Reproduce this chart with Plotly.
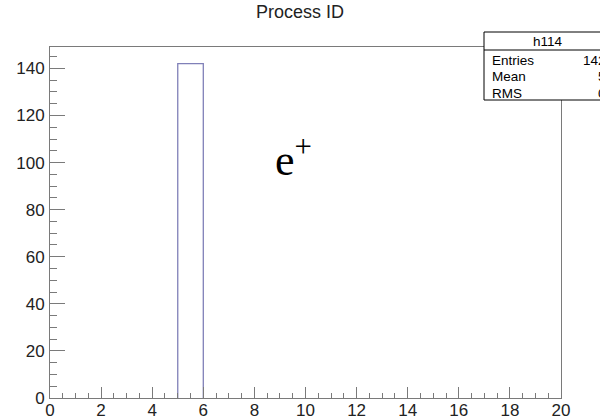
import plotly.graph_objects as go

# Data
bin_edges = list(range(0, 21))
counts = [0, 0, 0, 0, 0, 142, 0, 0, 0, 0, 0, 0, 0, 0, 0, 0, 0, 0, 0, 0]
title_text = "Process ID"
hist_name = "h114"
stat_labels = ["Entries", "Mean", "RMS"]
stat_values = ["142", "5", "0"]
x_ticks = list(range(0, 21, 2))
y_ticks = list(range(0, 141, 20))

# histogram outline built from bin edges and counts (non-empty bins)
hx, hy = [], []
for i, n in enumerate(counts):
    if n > 0:
        hx += [bin_edges[i], bin_edges[i], bin_edges[i + 1], bin_edges[i + 1], None]
        hy += [0, n, n, 0, None]

fig = go.Figure()
fig.add_trace(go.Scatter(
    x=hx, y=hy, mode="lines",
    line=dict(color="#8080b8", width=1.3),
    showlegend=False, hoverinfo="skip",
))

axis_color = "#7a7a7a"
font_family = "Liberation Sans, Arial, sans-serif"

fig.update_layout(
    width=600, height=420,
    margin=dict(l=50, r=39, t=47, b=22, autoexpand=False),
    paper_bgcolor="white", plot_bgcolor="white",
    font=dict(family=font_family, size=17, color="#222222"),
    title=dict(text=title_text, x=0.5, xanchor="center", y=0.972, yanchor="middle",
               font=dict(size=18, color="#222222")),
)
fig.update_xaxes(
    range=[0, 20], tickvals=x_ticks, ticks="inside", ticklen=11, tickwidth=1,
    tickcolor=axis_color, showline=True, linecolor=axis_color, linewidth=1,
    mirror=True, showgrid=False, zeroline=False, automargin=False,
    minor=dict(dtick=0.5, ticks="inside", ticklen=5, tickcolor=axis_color, showgrid=False),
    tickfont=dict(size=17), ticklabelstandoff=-3,
)
fig.update_yaxes(
    range=[0, 149.1], tickvals=y_ticks, ticks="inside", ticklen=15, tickwidth=1,
    tickcolor=axis_color, showline=True, linecolor=axis_color, linewidth=1,
    mirror=True, showgrid=False, zeroline=False, automargin=False,
    minor=dict(dtick=5, ticks="inside", ticklen=7, tickcolor=axis_color, showgrid=False),
    tickfont=dict(size=17), ticklabelstandoff=1,
)

# e+ label
fig.add_annotation(
    x=8.73, y=89.8, xref="x", yref="y", xanchor="left", yanchor="bottom",
    text="e<sup>+</sup>", showarrow=False,
    font=dict(family="Liberation Serif, Times New Roman, serif", size=44, color="black"),
)

# Stats box (pixel -> paper conversion)
pw, ph = 600 - 50 - 39, 420 - 47 - 22
def px(xp):
    return (xp - 50) / pw
def py(yp):
    return (420 - 22 - yp) / ph

fig.add_shape(type="rect", xref="paper", yref="paper",
              x0=px(484), x1=px(640), y0=py(100), y1=py(32),
              line=dict(color="black", width=1), fillcolor="white", layer="above")
fig.add_shape(type="line", xref="paper", yref="paper",
              x0=px(484), x1=px(640), y0=py(50), y1=py(50),
              line=dict(color="black", width=1), layer="above")
fig.add_annotation(x=px(548), y=py(41), xref="paper", yref="paper",
                   text=hist_name, showarrow=False, xanchor="center", yanchor="middle",
                   font=dict(size=13.5, color="black"))
for i, (lab, val) in enumerate(zip(stat_labels, stat_values)):
    yc = 60 + i * 16.5
    fig.add_annotation(x=px(490), y=py(yc), xref="paper", yref="paper",
                       text=lab, showarrow=False, xanchor="left", yanchor="middle",
                       font=dict(size=13.5, color="black"))
    fig.add_annotation(x=px(608), y=py(yc), xref="paper", yref="paper",
                       text=val, showarrow=False, xanchor="right", yanchor="middle",
                       font=dict(size=13.5, color="black"))

fig.write_html("out.html", config={"displayModeBar": False},
               post_script="document.body.style.margin='0';document.body.style.overflow='hidden';")
